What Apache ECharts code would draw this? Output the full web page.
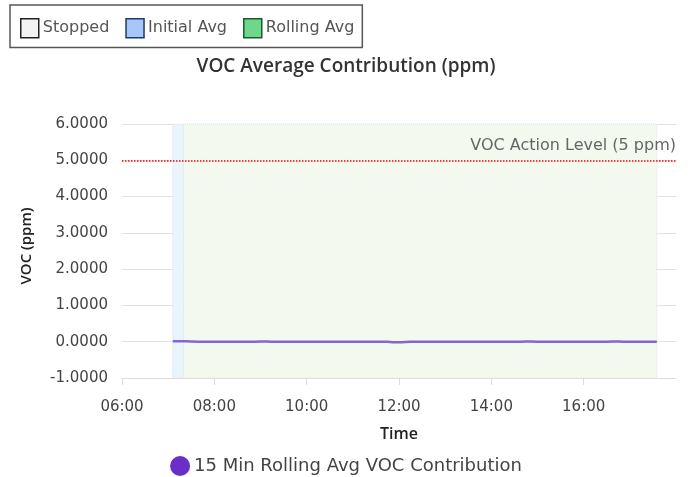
<!DOCTYPE html>
<html>
<head>
<meta charset="utf-8">
<title>VOC Average Contribution</title>
<script src="https://cdn.jsdelivr.net/npm/echarts@6/dist/echarts.min.js"></script>
<style>
  html, body { margin: 0; padding: 0; background: #fff; }
  #chart { width: 692px; height: 477px; }
</style>
</head>
<body>
<div id="chart"></div>
<script>
// data
const times = ['07:06', '07:15', '07:30', '07:45', '08:00', '08:15', '08:30', '08:45',
  '09:00', '09:15', '09:30', '09:45', '10:00', '10:15', '10:30', '10:45',
  '11:00', '11:15', '11:30', '11:45', '12:00', '12:15', '12:30', '12:45',
  '13:00', '13:15', '13:30', '13:45', '14:00', '14:15', '14:30', '14:45',
  '15:00', '15:15', '15:30', '15:45', '16:00', '16:15', '16:30', '16:45',
  '17:00', '17:15', '17:30', '17:35'];
const voc = [0.010, 0.014, 0.004, 0.000, -0.002, 0.001, 0.002, 0.000,
  0.003, 0.002, 0.000, 0.001, 0.000, -0.001, 0.000, 0.001,
  0.000, 0.002, 0.000, -0.004, -0.018, -0.003, 0.001, 0.000,
  0.002, 0.001, 0.000, 0.001, 0.002, 0.000, 0.001, 0.003,
  0.002, 0.000, 0.001, 0.002, 0.001, 0.000, 0.002, 0.003,
  0.001, 0.000, 0.001, 0.000];
const initialAvg = ['07:06', '07:20'];
const rollingAvg = ['07:20', '17:35'];
const actionLevel = 5;
const xRange = ['06:00', '18:00'];

// 时间 "HH:mm" 转为当天的分钟数
const mins = t => { const p = t.split(':'); return +p[0] * 60 + +p[1]; };
const hhmm = m => String(Math.floor(m / 60)).padStart(2, '0') + ':' + String(m % 60).padStart(2, '0');

const chart = echarts.init(document.getElementById('chart'));
const font = '"DejaVu Sans", sans-serif';
const headFont = '"Open Sans", "Noto Sans", sans-serif';

const option = {
  animation: false,
  textStyle: { fontFamily: font },
  title: {
    text: 'VOC Average Contribution (ppm)',
    left: 'center',
    top: 52,
    textStyle: { fontSize: 19, fontWeight: 600, color: '#333', fontFamily: headFont }
  },
  legend: [
    {
      data: [
        { name: 'Stopped', itemStyle: { color: '#f2f2f2', borderColor: '#222', borderWidth: 1.5 } },
        { name: 'Initial Avg', itemStyle: { color: '#a7c7fa', borderColor: '#1f3a66', borderWidth: 1.5 } },
        { name: 'Rolling Avg', itemStyle: { color: '#6dd88c', borderColor: '#1d5a2c', borderWidth: 1.5 } }
      ],
      left: 10,
      top: 5,
      icon: 'rect',
      itemWidth: 18,
      itemHeight: 19,
      itemGap: 16,
      padding: [13, 8, 9, 10],
      borderColor: '#555',
      borderWidth: 1.5,
      selectedMode: false,
      textStyle: { fontSize: 16, color: '#555', fontFamily: font, padding: [0, 0, 0, -1] }
    },
    {
      data: [{ name: '15 Min Rolling Avg VOC Contribution', icon: 'circle', itemStyle: { color: '#6a2fc8' } }],
      left: 'center',
      top: 451,
      itemWidth: 20,
      itemHeight: 20,
      selectedMode: false,
      textStyle: { fontSize: 18, color: '#444', fontFamily: font, padding: [0, 0, 0, -1] }
    }
  ],
  grid: { left: 122, right: 16, top: 124, bottom: 99 },
  xAxis: {
    type: 'value',
    min: mins(xRange[0]),
    max: mins(xRange[1]),
    interval: 120,
    name: 'Time',
    nameLocation: 'middle',
    nameGap: 48,
    nameTextStyle: { fontSize: 16, fontWeight: 600, color: '#222', fontFamily: headFont },
    axisLine: { show: true, onZero: false, lineStyle: { color: '#ddd' } },
    axisTick: { show: true, length: 7, lineStyle: { color: '#ddd' } },
    splitLine: { show: false },
    axisLabel: {
      fontSize: 15,
      color: '#444',
      margin: 22,
      showMaxLabel: false,
      formatter: v => hhmm(v)
    }
  },
  yAxis: {
    type: 'value',
    min: -1,
    max: 6,
    interval: 1,
    name: 'VOC (ppm)',
    nameLocation: 'middle',
    nameGap: 88,
    nameTextStyle: { fontSize: 15, fontWeight: 600, color: '#222', fontFamily: headFont, padding: [0, 0, 0, 10] },
    axisLine: { show: false },
    axisTick: { show: false },
    splitLine: { lineStyle: { color: '#e2e2e2' } },
    axisLabel: { fontSize: 15, color: '#444', margin: 14, formatter: v => v.toFixed(4) }
  },
  series: [
    {
      name: '15 Min Rolling Avg VOC Contribution',
      type: 'line',
      data: times.map((t, i) => [mins(t), voc[i]]),
      showSymbol: false,
      symbol: 'none',
      smooth: true,
      itemStyle: { color: '#6a2fc8' },
      lineStyle: { color: '#8465d2', width: 2.5 },
      z: 5,
      markArea: {
        silent: true,
        data: [
          [{ xAxis: mins(initialAvg[0]), itemStyle: { color: '#eaf4fc', borderColor: '#dde3e8', borderWidth: 1, borderType: 'dotted' } },
           { xAxis: mins(initialAvg[1]) }],
          [{ xAxis: mins(rollingAvg[0]), itemStyle: { color: '#f3f9ee', borderColor: '#e0e4dc', borderWidth: 1, borderType: 'dotted' } },
           { xAxis: mins(rollingAvg[1]) }]
        ]
      },
      markLine: {
        silent: true,
        symbol: 'none',
        data: [{ yAxis: actionLevel }],
        lineStyle: { color: '#ff0000', type: 'dotted', width: 1.5 },
        label: {
          show: true,
          position: 'insideEndTop',
          formatter: 'VOC Action Level (5 ppm)',
          fontSize: 16,
          color: '#666',
          fontFamily: font,
          distance: [0, 6]
        }
      }
    },
    // 图例用的空系列
    { name: 'Stopped', type: 'line', data: [] },
    { name: 'Initial Avg', type: 'line', data: [] },
    { name: 'Rolling Avg', type: 'line', data: [] }
  ]
};

chart.setOption(option);
</script>
</body>
</html>
